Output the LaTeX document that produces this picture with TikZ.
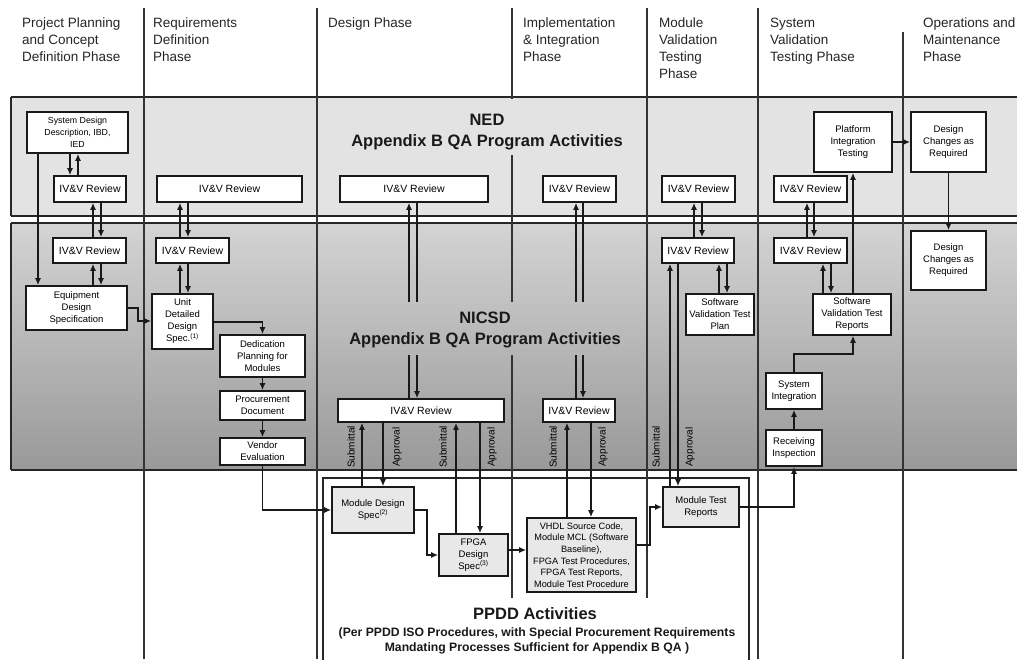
\documentclass[tikz,border=0pt]{standalone}
\usepackage{fontspec}
\setmainfont{Liberation Sans}
\usetikzlibrary{arrows.meta}
\begin{document}
\begin{tikzpicture}[x=1pt,y=-1pt,
  wh/.style 2 args={minimum width=#1pt, minimum height=#2pt},
  box/.style={draw=black!90, line width=1.6pt, fill=white, inner sep=1pt, align=center,
              font=\fontsize{9.5}{12}\selectfont},
  ivv/.style={box, font=\fontsize{10.5}{12}\selectfont},
  pbox/.style={box, fill=black!9},
  arr/.style={line width=1.7pt, draw=black!90, -{Latex[length=7pt,width=6pt]}},
  phase/.style={line width=1.2pt, draw=black!80},
  band/.style={line width=1.5pt, draw=black!85},
  hdr/.style={anchor=north west, align=left, inner sep=0pt, font=\fontsize{13.5}{17}\selectfont, text=black!85},
  vlab/.style={rotate=90, inner sep=0pt, font=\fontsize{10}{10}\selectfont},
  ttl/.style={align=center, inner sep=0pt, font=\bfseries\fontsize{16.5}{21}\selectfont, text=black!90}
]
\path[use as bounding box] (0,0) rectangle (1017,659);
\clip (0,0) rectangle (1017,659);
\fill[white] (0,0) rectangle (1017,659);

% bands
\fill[black!11] (11,97) rectangle (1030,216);
\draw[band] (11,97) -- (1030,97) (11,216) -- (1030,216) (11,97) -- (11,216);
\shade[top color=black!17, bottom color=black!40] (11,223) rectangle (1030,470);
\draw[band] (11,223) -- (1030,223) (11,470) -- (1030,470) (11,223) -- (11,470);
\filldraw[band, fill=white] (323,478) rectangle (749,700);

% phase lines
\draw[phase] (144,8) -- (144,659);
\draw[phase] (317,8) -- (317,659);
\draw[phase] (512,8) -- (512,598);
\draw[phase] (647,8) -- (647,598);
\draw[phase] (758,8) -- (758,659);
\draw[phase] (903,32) -- (903,659);

% headers
\node[hdr] (h1) at (22,17.5) {Project Planning\\and Concept\\Definition Phase};
\node[hdr] (h2) at (153,17.5) {Requirements\\Definition\\Phase};
\node[hdr] (h3) at (328,17.5) {Design Phase};
\node[hdr] (h4) at (523,17.5) {Implementation\\\& Integration\\Phase};
\node[hdr] (h5) at (659,17.5) {Module\\Validation\\Testing\\Phase};
\node[hdr] (h6) at (770,17.5) {System\\Validation\\Testing Phase};
\node[hdr] (h7) at (923,17.5) {Operations and\\Maintenance\\Phase};

% NED nodes
\node[box, wh={101}{41}, font=\fontsize{8.8}{12}\selectfont] (sdd) at (77.5,132.5) {System Design\\Description, IBD,\\IED};
\node[ivv, wh={72}{26}] (ivN1) at (90,189) {IV\&V Review};
\node[ivv, wh={145}{26}] (ivN2) at (229.5,189) {IV\&V Review};
\node[ivv, wh={148}{26}] (ivN3) at (414,189) {IV\&V Review};
\node[ivv, wh={73}{26}] (ivN4) at (579.5,189) {IV\&V Review};
\node[ivv, wh={73}{26}] (ivN5) at (698.5,189) {IV\&V Review};
\node[ivv, wh={73}{26}] (ivN6) at (810.5,189) {IV\&V Review};
\node[box, wh={78}{60}] (pit) at (853,142) {Platform\\Integration\\Testing};
\node[box, wh={75}{60}] (dcr1) at (948.5,142) {Design\\Changes as\\Required};

% NICSD nodes
\node[ivv, wh={73}{25}] (ivC1) at (89.5,250.5) {IV\&V Review};
\node[ivv, wh={73}{25}] (ivC2) at (192.5,250.5) {IV\&V Review};
\node[box, wh={101}{44}] (eds) at (76.5,308) {Equipment\\Design\\Specification};
\node[box, wh={61}{55}] (udds) at (182.5,321.5) {Unit\\Detailed\\Design\\Spec.\textsuperscript{(1)}};
\node[box, wh={85}{42}] (dpm) at (262.5,356) {Dedication\\Planning for\\Modules};
\node[box, wh={85}{29}] (pdoc) at (262.5,405.5) {Procurement\\Document};
\node[box, wh={85}{27}] (veval) at (262.5,451.5) {Vendor\\Evaluation};
\node[ivv, wh={166}{23}] (ivC3) at (421,410.5) {IV\&V Review};
\node[ivv, wh={72}{23}] (ivC4) at (579,410.5) {IV\&V Review};
\node[ivv, wh={72}{25}] (ivC5) at (698,250.5) {IV\&V Review};
\node[ivv, wh={73}{25}] (ivC6) at (810.5,250.5) {IV\&V Review};
\node[box, wh={75}{59}] (dcr2) at (948.5,260.5) {Design\\Changes as\\Required};
\node[box, wh={68}{41}, inner sep=0pt] (svtp) at (720,314.5) {Software\\Validation Test\\Plan};
\node[box, wh={78}{41}] (svtr) at (852,314.5) {Software\\Validation Test\\Reports};
\node[box, wh={56}{36}] (sint) at (794,391) {System\\Integration};
\node[box, wh={56}{36}] (rinsp) at (794,448) {Receiving\\Inspection};

% PPDD nodes
\node[pbox, wh={82}{46}] (mds) at (373,510) {Module Design\\Spec\textsuperscript{(2)}};
\node[pbox, wh={69}{42}] (fpga) at (473.5,555) {FPGA\\Design\\Spec\textsuperscript{(3)}};
\node[pbox, wh={109}{74}, inner sep=0pt, font=\fontsize{9.2}{11.7}\selectfont] (vhdl) at (581.5,555) {VHDL Source Code,\\Module MCL (Software\\Baseline),\\FPGA Test Procedures,\\FPGA Test Reports,\\Module Test Procedure};
\node[pbox, wh={76}{40}] (mtr) at (701,507) {Module Test\\Reports};

% connectors: column 1
\draw[arr] (sdd.south -| 38,0) -- (eds.north -| 38,0);
\draw[arr] (sdd.south -| 70,0) -- (ivN1.north -| 70,0);
\draw[arr] (ivN1.north -| 78,0) -- (sdd.south -| 78,0);
\draw[arr] (ivC1.north -| 93,0) -- (ivN1.south -| 93,0);
\draw[arr] (ivN1.south -| 101,0) -- (ivC1.north -| 101,0);
\draw[arr] (eds.north -| 93,0) -- (ivC1.south -| 93,0);
\draw[arr] (ivC1.south -| 101,0) -- (eds.north -| 101,0);
\draw[arr] (eds.east |- 0,308) -| (138,321) -- (udds.west |- 0,321);
% column 2
\draw[arr] (ivC2.north -| 180,0) -- (ivN2.south -| 180,0);
\draw[arr] (ivN2.south -| 188,0) -- (ivC2.north -| 188,0);
\draw[arr] (udds.north -| 180,0) -- (ivC2.south -| 180,0);
\draw[arr] (ivC2.south -| 188,0) -- (udds.north -| 188,0);
\draw[arr] (udds.east |- 0,322) -| (dpm.north);
\draw[arr] (dpm) -- (pdoc);
\draw[arr] (pdoc) -- (veval);
\draw[arr] (veval.south) |- (mds.west);
% design
\draw[arr] (ivC3.north -| 409,0) -- (ivN3.south -| 409,0);
\draw[arr] (ivN3.south -| 417,0) -- (ivC3.north -| 417,0);
\draw[arr] (mds.north -| 362,0) -- (ivC3.south -| 362,0);
\draw[arr] (ivC3.south -| 383,0) -- (mds.north -| 383,0);
\draw[arr] (fpga.north -| 456,0) -- (ivC3.south -| 456,0);
\draw[arr] (ivC3.south -| 480,0) -- (fpga.north -| 480,0);
\draw[arr] (mds.east) -| (427,555) -- (fpga.west);
\draw[arr] (fpga.east |- 0,550) -- (vhdl.west |- 0,550);
% implementation
\draw[arr] (ivC4.north -| 576,0) -- (ivN4.south -| 576,0);
\draw[arr] (ivN4.south -| 583,0) -- (ivC4.north -| 583,0);
\draw[arr] (vhdl.north -| 567,0) -- (ivC4.south -| 567,0);
\draw[arr] (ivC4.south -| 591,0) -- (vhdl.north -| 591,0);
\draw[arr] (vhdl.east |- 0,545) -| (650,507) -- (mtr.west);
% module validation
\draw[arr] (ivC5.north -| 694,0) -- (ivN5.south -| 694,0);
\draw[arr] (ivN5.south -| 702,0) -- (ivC5.north -| 702,0);
\draw[arr] (svtp.north -| 719,0) -- (ivC5.south -| 719,0);
\draw[arr] (ivC5.south -| 727,0) -- (svtp.north -| 727,0);
\draw[arr] (mtr.north -| 670,0) -- (ivC5.south -| 670,0);
\draw[arr] (ivC5.south -| 678,0) -- (mtr.north -| 678,0);
\draw[arr] (mtr.east) -| (rinsp.south);
% system validation
\draw[arr] (rinsp) -- (sint);
\draw[arr] (sint.north) |- (853,354) -- (svtr.south -| 853,0);
\draw[arr] (svtr.north -| 823,0) -- (ivC6.south -| 823,0);
\draw[arr] (ivC6.south -| 831,0) -- (svtr.north -| 831,0);
\draw[arr] (ivC6.north -| 807,0) -- (ivN6.south -| 807,0);
\draw[arr] (ivN6.south -| 814,0) -- (ivC6.north -| 814,0);
\draw[arr] (svtr.north -| 853,0) -- (pit.south -| 853,0);
\draw[arr] (pit) -- (dcr1);
\draw[arr] (dcr1) -- (dcr2);

% submittal / approval labels
\node[vlab] (s1) at (351,447) {Submittal};
\node[vlab] (a1) at (397,447) {Approval};
\node[vlab] (s2) at (443,447) {Submittal};
\node[vlab] (a2) at (492,447) {Approval};
\node[vlab] (s3) at (553,447) {Submittal};
\node[vlab] (a3) at (603,447) {Approval};
\node[vlab] (s4) at (656,447) {Submittal};
\node[vlab] (a4) at (690,447) {Approval};

% title backgrounds
\fill[black!11] (350,99) rectangle (625,155);
\begin{scope}
  \clip (349,302) rectangle (623,354);
  \shade[top color=black!17, bottom color=black!40] (11,223) rectangle (1030,470);
\end{scope}

% titles
\node[ttl] (tned) at (487,132) {NED\\Appendix B QA Program Activities};
\node[ttl] (tnicsd) at (485,330) {NICSD\\Appendix B QA Program Activities};
\node[ttl, font=\bfseries\fontsize{16.5}{18}\selectfont] (tppdd) at (535,614) {PPDD Activities};
\node[ttl, font=\bfseries\fontsize{12.2}{15}\selectfont] (tppdd2) at (537,640.5) {(Per PPDD ISO Procedures, with Special Procurement Requirements\\Mandating Processes Sufficient for Appendix B QA )};
\end{tikzpicture}
\end{document}
